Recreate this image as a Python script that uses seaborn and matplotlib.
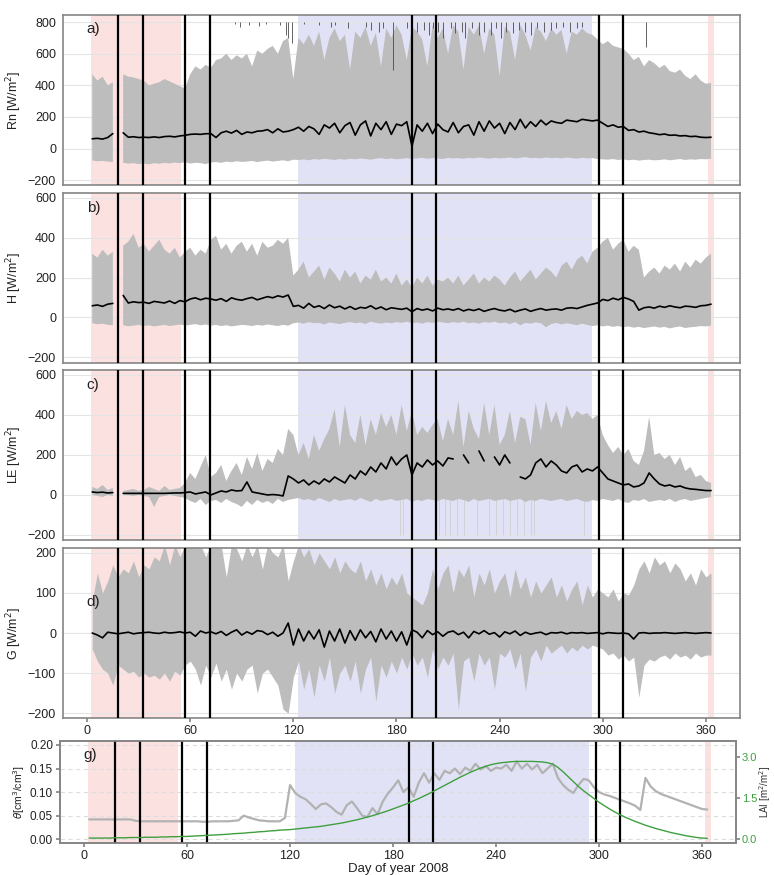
import numpy as np
import pandas as pd
import matplotlib
matplotlib.use('Agg')
import matplotlib.pyplot as plt
import seaborn as sns

# every third day of 2008
days = np.arange(3, 364, 3)
nan = np.nan

# Rn [W/m2]: envelope (min/max) and daily mean
rn_max = [470, 430, 455, 400, 420, nan, 470, 455, 450, 440,
          430, 400, 410, 420, 440, 425, 410, 395, 380, 470,
          520, 500, 530, 510, 560, 570, 600, 560, 590, 570,
          600, 520, 620, 600, 630, 650, 600, 680, 700, 440,
          700, 660, 720, 650, 740, 560, 700, 760, 680, 720,
          500, 740, 700, 770, 650, 730, 520, 760, 700, 780,
          720, 560, 770, 740, 690, 520, 780, 700, 760, 600,
          780, 740, 500, 770, 720, 780, 600, 760, 720, 460,
          770, 740, 560, 780, 720, 620, 770, 740, 680, 760,
          720, 750, 600, 740, 720, 760, 730, 720, 690, 660,
          680, 650, 640, 630, 600, 560, 580, 520, 560, 540,
          510, 530, 490, 480, 500, 460, 440, 470, 430, 410,
          415]
rn_min = [-75, -80, -78, -82, -85, nan, -90, -95, -92, -98,
          -95, -100, -92, -96, -90, -94, -88, -92, -85, -95,
          -90, -92, -98, -88, -85, -90, -82, -86, -80, -84,
          -82, -78, -85, -80, -76, -82, -78, -74, -80, -70,
          -72, -68, -74, -66, -70, -64, -68, -72, -66, -70,
          -64, -68, -62, -66, -70, -64, -60, -66, -62, -68,
          -64, -60, -66, -62, -58, -64, -60, -62, -66, -58,
          -62, -60, -64, -58, -62, -56, -60, -64, -58, -62,
          -60, -56, -62, -58, -54, -60, -58, -62, -56, -60,
          -58, -62, -56, -60, -64, -58, -62, -60, -66, -68,
          -70, -66, -72, -68, -74, -70, -76, -72, -70, -74,
          -72, -68, -74, -70, -66, -72, -68, -70, -66, -68,
          -64]
rn_mean = [62, 65, 60, 70, 95, nan, 100, 72, 75, 70,
           72, 70, 74, 70, 76, 78, 74, 80, 84, 90,
           92, 90, 94, 95, 70, 100, 110, 98, 115, 90,
           105, 100, 110, 112, 120, 100, 125, 105, 110, 120,
           135, 110, 140, 125, 90, 150, 130, 160, 100, 145,
           165, 85, 150, 175, 80, 160, 120, 170, 90, 155,
           145, 170, 15, 150, 110, 160, 95, 155, 120, 105,
           165, 100, 140, 150, 85, 170, 110, 175, 130, 160,
           95, 165, 120, 185, 130, 170, 140, 180, 150, 175,
           165, 160, 180, 175, 170, 185, 180, 175, 180, 160,
           140, 150, 135, 140, 115, 120, 105, 110, 100, 95,
           88, 92, 84, 86, 80, 82, 76, 78, 72, 70,
           72]
# thin dark marks hanging from the top of panel a
rn_flag_days = [86, 89, 94, 100, 104, 112, 116, 117, 119, 126, 135, 142, 144,
                152, 162, 165, 170, 172, 178, 186, 189, 192, 196, 199, 201,
                204, 207, 212, 214, 218, 220, 224, 228, 231, 235, 238, 241,
                244, 248, 251, 255, 258, 262, 266, 270, 273, 277, 281, 285,
                288, 325]
rn_flag_low = [785, 770, 780, 775, 785, 780, 720, 700, 670, 785, 780, 770, 780,
               760, 770, 750, 740, 760, 500, 760, 730, 740, 750, 720, 760,
               740, 700, 760, 730, 740, 700, 760, 720, 740, 720, 760, 700,
               740, 730, 750, 740, 720, 760, 740, 750, 760, 770, 740, 760,
               770, 640]

# H [W/m2]
h_max = [320, 300, 340, 310, 330, nan, 360, 380, 420, 350,
         370, 330, 360, 390, 340, 320, 350, 300, 330, 350,
         310, 340, 320, 390, 410, 340, 370, 320, 360, 380,
         330, 370, 310, 380, 350, 360, 390, 370, 400, 210,
         240, 280, 200, 230, 260, 190, 250, 220, 180, 240,
         200, 230, 170, 210, 190, 240, 180, 200, 170, 220,
         160, 190, 150, 200, 170, 210, 160, 190, 180, 200,
         170, 210, 160, 190, 220, 170, 200, 180, 210, 190,
         160, 200, 230, 180, 210, 240, 190, 220, 250, 230,
         200, 260, 280, 240, 290, 310, 270, 330, 350, 380,
         400, 340, 370, 390, 330, 360, 340, 200, 230, 250,
         220, 260, 240, 270, 230, 280, 250, 290, 270, 300,
         320]
h_min = [-30, -35, -32, -38, -40, nan, -40, -45, -42, -38,
         -44, -40, -46, -42, -38, -44, -40, -36, -42, -38,
         -34, -40, -36, -42, -38, -44, -40, -46, -42, -38,
         -40, -44, -38, -42, -36, -40, -44, -38, -42, -30,
         -26, -32, -24, -30, -28, -36, -26, -30, -34, -28,
         -24, -30, -26, -34, -22, -28, -32, -26, -30, -24,
         -28, -22, -30, -26, -32, -24, -28, -22, -26, -30,
         -24, -28, -22, -30, -26, -32, -24, -28, -22, -30,
         -26, -34, -24, -40, -28, -32, -26, -30, -50, -34,
         -28, -36, -30, -34, -40, -32, -38, -44, -40, -46,
         -42, -48, -44, -50, -46, -52, -48, -54, -50, -46,
         -52, -48, -56, -50, -46, -54, -50, -48, -44, -46,
         -42]
h_mean = [58, 62, 55, 66, 70, nan, 110, 72, 78, 74,
          76, 70, 80, 76, 72, 82, 70, 84, 78, 92,
          98, 88, 96, 92, 86, 94, 80, 98, 90, 86,
          94, 100, 88, 96, 104, 98, 108, 102, 112, 55,
          60, 46, 70, 50, 58, 44, 62, 48, 56, 42,
          54, 40, 50, 46, 58, 42, 52, 38, 48, 44,
          40, 46, 28, 44, 36, 42, 32, 46, 38, 42,
          36, 44, 32, 40, 34, 42, 30, 38, 44, 36,
          32, 40, 28, 36, 42, 30, 38, 44, 36, 40,
          42, 36, 46, 48, 44, 52, 60, 66, 72, 90,
          84, 96, 88, 100, 92, 80, 36, 48, 52, 46,
          56, 50, 58, 52, 48, 56, 54, 50, 58, 60,
          66]

# LE [W/m2]
le_max = [40, 30, 50, 25, 35, nan, 20, 25, 30, 20,
          25, 40, 30, 20, 45, 25, 30, 35, 60, 110,
          80, 140, 200, 90, 110, 150, 70, 120, 160, 100,
          190, 130, 210, 120, 180, 160, 230, 200, 330, 300,
          200, 260, 180, 300, 220, 280, 330, 430, 240, 450,
          300, 260, 400, 250, 380, 300, 410, 340, 400, 300,
          450, 320, 420, 300, 340, 310, 350, 380, 270, 380,
          300, 470, 240, 420, 330, 280, 460, 300, 450, 250,
          300, 420, 260, 390, 380, 250, 460, 320, 470, 360,
          420, 330, 450, 380, 420, 400, 410, 380, 400, 300,
          250, 210, 240, 200, 230, 170, 150, 220, 390, 200,
          210, 180, 200, 150, 190, 120, 140, 90, 100, 70,
          60]
le_min = [0, -5, -10, 0, -5, nan, 0, -2, -5, 0,
          -5, -10, -60, -10, -5, 0, -5, -10, -15, -30,
          -40, -20, -50, -30, -25, -40, -20, -35, -45, -60,
          -30, -50, -25, -40, -30, -45, -20, -35, -25, -20,
          -15, -25, -20, -30, -15, -25, -35, -20, -30, -25,
          -20, -30, -15, -25, -35, -20, -30, -25, -20, -30,
          -25, -20, -35, -25, -30, -20, -25, -30, -20, -25,
          -30, -20, -25, -35, -20, -30, -25, -20, -30, -25,
          -20, -30, -25, -20, -35, -25, -30, -20, -25, -30,
          -25, -20, -30, -25, -20, -30, -35, -25, -30, -20,
          -25, -30, -20, -35, -40, -25, -30, -20, -35, -30,
          -25, -30, -20, -35, -25, -20, -30, -25, -20, -15,
          -10]
le_mean = [15, 12, 14, 10, 12, nan, 8, 8, 8, 8,
           8, 8, 8, 8, 8, 9, 10, 10, 12, 15,
           5, 10, 15, 0, 10, 20, 15, 25, 20, 22,
           65, 15, 10, 5, 0, 2, 0, -5, 95, 80,
           60, 75, 50, 70, 55, 80, 65, 90, 75, 60,
           100, 80, 120, 100, 140, 115, 160, 130, 190, 150,
           180, 200, 100, 160, 140, 175, 150, 170, 145, 185,
           180, nan, 200, 160, nan, 220, 170, nan, 190, 150,
           200, 160, nan, 90, 80, 100, 160, 180, 140, 170,
           150, 120, 110, 140, 150, 115, 130, 120, 140, 110,
           80, 70, 60, 50, 55, 40, 45, 60, 110, 80,
           55, 45, 50, 40, 45, 35, 30, 28, 25, 22,
           22]
# faint drops of the LE envelope to the bottom of panel c
le_drop_days = [182, 184, 205, 208, 211, 215, 219, 227, 234, 238, 242, 246,
                250, 254, 258, 260, 289]

# G [W/m2]
g_max = [80, 150, 100, 130, 170, 140, 160, 150, 180, 140,
         170, 160, 190, 180, 220, 170, 220, 190, 220, 220,
         220, 220, 190, 220, 220, 220, 140, 220, 210, 180,
         220, 190, 220, 160, 220, 200, 190, 220, 130, 180,
         220, 190, 210, 170, 200, 180, 160, 190, 150, 180,
         160, 150, 180, 130, 160, 120, 150, 110, 140, 120,
         150, 100, 90, 80, 70, 100, 160, 110, 150, 170,
         100, 160, 140, 170, 90, 150, 120, 160, 100, 130,
         150, 90, 160, 110, 140, 90, 130, 100, 120, 140,
         90, 120, 80, 110, 130, 70, 120, 90, 110, 100,
         90, 110, 80, 100, 95, 120, 160, 180, 150, 190,
         170, 180, 150, 175, 160, 130, 150, 120, 160, 140,
         150]
g_min = [-40, -70, -90, -100, -130, -80, -90, -100, -95, -110,
         -100, -110, -105, -115, -100, -120, -95, -105, -80, -70,
         -90, -130, -80, -110, -75, -120, -90, -140, -100, -120,
         -90, -80, -150, -100, -90, -110, -130, -190, -200, -110,
         -70, -140, -90, -160, -80, -120, -60, -150, -100, -80,
         -120, -70, -150, -90, -60, -170, -80, -110, -70, -100,
         -60, -90, -50, -80, -60, -110, -40, -90, -60, -80,
         -50, -190, -70, -60, -120, -50, -80, -60, -140, -50,
         -60, -40, -90, -50, -145, -60, -40, -70, -30, -50,
         -40, -30, -50, -35, -45, -30, -40, -30, -35, -40,
         -55, -50, -65, -55, -70, -60, -160, -80, -65, -70,
         -60, -55, -65, -50, -60, -55, -65, -50, -60, -55,
         -55]
g_mean = [0, -5, -12, 2, 0, -2, 0, 2, -2, 0,
          1, 2, 0, -1, 2, 0, 1, 3, 0, 2,
          -8, 5, 0, 3, -2, 4, -6, 2, 8, -5,
          3, -3, 6, 4, -4, 2, -8, 0, 25, -30,
          10, -20, 5, -15, 8, -35, 5, -20, 10, -25,
          6, -18, 8, -12, 4, -22, 10, -15, 5, -20,
          3, -30, 8, 2, -12, 6, -4, 3, -8, 2,
          5, -4, 2, -12, 4, -2, 6, -3, 1, -10,
          3, -2, 5, -6, 2, -3, 0, 2, -4, 1,
          0, 2, -2, 1, 0, 1, -1, 0, 1, -2,
          1, 0, -1, 0, -2, -15, 0, 1, -1, 0,
          0, 1, 0, -1, 0, 1, 0, -1, 0, 1,
          0]

# soil moisture theta [cm3/cm3] and LAI [m2/m2]
theta = [0.042, 0.042, 0.042, 0.042, 0.042, 0.042, 0.042, 0.042, 0.042, 0.039,
         0.038, 0.038, 0.038, 0.038, 0.038, 0.038, 0.038, 0.038, 0.038, 0.038,
         0.038, 0.038, 0.037, 0.037, 0.038, 0.038, 0.038, 0.038, 0.039, 0.040,
         0.050, 0.046, 0.043, 0.040, 0.039, 0.038, 0.038, 0.038, 0.045, 0.115,
         0.098, 0.090, 0.085, 0.075, 0.064, 0.074, 0.076, 0.068, 0.058, 0.052,
         0.072, 0.080, 0.066, 0.050, 0.047, 0.066, 0.053, 0.080, 0.097, 0.110,
         0.125, 0.100, 0.110, 0.090, 0.120, 0.140, 0.120, 0.140, 0.126, 0.145,
         0.140, 0.150, 0.138, 0.152, 0.145, 0.160, 0.148, 0.155, 0.145, 0.152,
         0.150, 0.158, 0.145, 0.165, 0.150, 0.160, 0.148, 0.158, 0.140, 0.150,
         0.160, 0.130, 0.115, 0.105, 0.098, 0.115, 0.128, 0.125, 0.110, 0.100,
         0.095, 0.092, 0.088, 0.084, 0.080, 0.076, 0.071, 0.062, 0.130, 0.112,
         0.102, 0.096, 0.092, 0.088, 0.084, 0.080, 0.076, 0.072, 0.068, 0.064,
         0.063]
lai = [0.03, 0.03, 0.03, 0.03, 0.03, 0.04, 0.04, 0.04, 0.05, 0.05,
       0.05, 0.06, 0.06, 0.06, 0.07, 0.07, 0.08, 0.08, 0.09, 0.09,
       0.10, 0.11, 0.12, 0.13, 0.14, 0.15, 0.16, 0.17, 0.19, 0.20,
       0.21, 0.23, 0.24, 0.26, 0.27, 0.29, 0.30, 0.32, 0.33, 0.34,
       0.36, 0.38, 0.40, 0.42, 0.44, 0.46, 0.49, 0.52, 0.55, 0.58,
       0.62, 0.66, 0.70, 0.75, 0.80, 0.85, 0.91, 0.97, 1.03, 1.10,
       1.17, 1.24, 1.31, 1.40, 1.48, 1.57, 1.66, 1.76, 1.86, 1.96,
       2.06, 2.16, 2.26, 2.35, 2.44, 2.52, 2.60, 2.66, 2.72, 2.76,
       2.79, 2.81, 2.83, 2.84, 2.84, 2.84, 2.84, 2.83, 2.82, 2.79,
       2.74, 2.62, 2.46, 2.28, 2.10, 1.92, 1.76, 1.62, 1.48, 1.34,
       1.22, 1.10, 0.99, 0.89, 0.80, 0.72, 0.64, 0.57, 0.50, 0.44,
       0.38, 0.33, 0.28, 0.23, 0.19, 0.15, 0.11, 0.08, 0.05, 0.03,
       0.02]

# periods and events
event_days = [18, 32.5, 57, 71.5, 189, 203, 298, 312]
pink_periods = [(2.5, 54.5), (361.5, 365)]
blue_periods = [(123, 294)]

df = pd.DataFrame({'day': days, 'theta': theta, 'lai': lai})

sns.set_theme(style='white')
plt.rcParams['font.family'] = ['Liberation Sans', 'DejaVu Sans']

PINK = '#fce1e1'
BLUE = '#e2e2f7'
GREY = '#bdbdbd'
FRAME = '#858585'
GREEN = '#3f9f3f'

fig = plt.figure(figsize=(7.74, 8.75), dpi=100)


def base_axis(ax, ylim, yticks, ylabel, letter, letter_y, xlabels=False):
    for a, b in pink_periods:
        ax.axvspan(a, b, color=PINK, lw=0, zorder=0)
    for a, b in blue_periods:
        ax.axvspan(a, b, color=BLUE, lw=0, zorder=0)
    for d in event_days:
        ax.axvline(d, color='black', lw=1.6, zorder=5)
    ax.set_xlim(-14, 380)
    ax.set_ylim(*ylim)
    ax.set_yticks(yticks)
    ax.set_xticks([0, 60, 120, 180, 240, 300, 360])
    ax.grid(axis='y', color='#e4e4e4', lw=0.8)
    ax.set_axisbelow(True)
    for s in ax.spines.values():
        s.set_color(FRAME)
        s.set_linewidth(1.2)
    ax.tick_params(axis='y', length=3, color=FRAME, labelsize=9,
                   labelcolor='#222222', pad=2)
    if xlabels:
        ax.tick_params(axis='x', length=3, color=FRAME, labelsize=9,
                       labelcolor='#222222', pad=2, bottom=True)
    else:
        ax.tick_params(axis='x', length=0, labelbottom=False)
    ax.set_ylabel(ylabel, fontsize=9, color='#222222', labelpad=3)
    ax.text(0.035, letter_y, letter, transform=ax.transAxes, fontsize=11,
            color='#222222', va='center', zorder=6)


def flux_panel(ax, lo, hi, mean):
    ax.fill_between(days, lo, hi, color=GREY, lw=0, zorder=1)
    ax.plot(days, mean, color='black', lw=1.2, zorder=3)


ax_a = fig.add_axes([0.0814, 0.7886, 0.875, 0.1943])
flux_panel(ax_a, rn_min, rn_max, rn_mean)
ax_a.vlines(rn_flag_days, rn_flag_low, 800, color='#4a4a4a', lw=0.6, zorder=2)
base_axis(ax_a, (-230, 845), [-200, 0, 200, 400, 600, 800],
          'Rn [W/m$^2$]', 'a)', 0.92)

ax_b = fig.add_axes([0.0814, 0.5851, 0.875, 0.1943])
flux_panel(ax_b, h_min, h_max, h_mean)
base_axis(ax_b, (-230, 625), [-200, 0, 200, 400, 600],
          'H [W/m$^2$]', 'b)', 0.91)

ax_c = fig.add_axes([0.0814, 0.3829, 0.875, 0.1943])
ax_c.vlines(le_drop_days, -200, -20, color='#cfcfcf', lw=0.6, zorder=1)
flux_panel(ax_c, le_min, le_max, le_mean)
base_axis(ax_c, (-225, 625), [-200, 0, 200, 400, 600],
          'LE [W/m$^2$]', 'c)', 0.91)

ax_d = fig.add_axes([0.0814, 0.1794, 0.875, 0.1943])
flux_panel(ax_d, g_min, g_max, g_mean)
base_axis(ax_d, (-212, 212), [-200, -100, 0, 100, 200],
          'G [W/m$^2$]', 'd)', 0.68, xlabels=True)

ax_g = fig.add_axes([0.0775, 0.0366, 0.874, 0.1166])
sns.lineplot(data=df, x='day', y='theta', color='#b2b2b2', lw=1.6,
             ax=ax_g, zorder=3)
base_axis(ax_g, (-0.008, 0.2085), [0.0, 0.05, 0.10, 0.15, 0.20],
          r'$\theta$[cm$^3$/cm$^3$]', 'g)', 0.86, xlabels=True)
ax_g.grid(axis='y', color='#dddddd', lw=0.8, ls=(0, (4, 3)))
ax_g.set_yticklabels(['0.00', '0.05', '0.10', '0.15', '0.20'])
ax_g.tick_params(axis='y', labelsize=8.5)
ax_g.set_ylabel(r'$\theta$[cm$^3$/cm$^3$]', fontsize=7.5, labelpad=2)
ax_g.set_xlabel('Day of year 2008', fontsize=9.5, color='#222222', labelpad=1)

ax_l = ax_g.twinx()
sns.lineplot(data=df, x='day', y='lai', color=GREEN, lw=1.0, ax=ax_l)
ax_l.set_xlim(-14, 380)
ax_l.set_ylim(-0.15, 3.59)
ax_l.set_yticks([0.0, 1.5, 3.0])
ax_l.set_yticklabels(['0.0', '1.5', '3.0'])
ax_l.tick_params(axis='y', length=3, color=FRAME, labelsize=8,
                 labelcolor=GREEN, pad=1)
ax_l.set_ylabel('LAI [m$^2$/m$^2$]', fontsize=7, color='#333333', labelpad=0)
for s in ax_l.spines.values():
    s.set_color(FRAME)
    s.set_linewidth(1.2)

fig.savefig('out.png', dpi=100)
